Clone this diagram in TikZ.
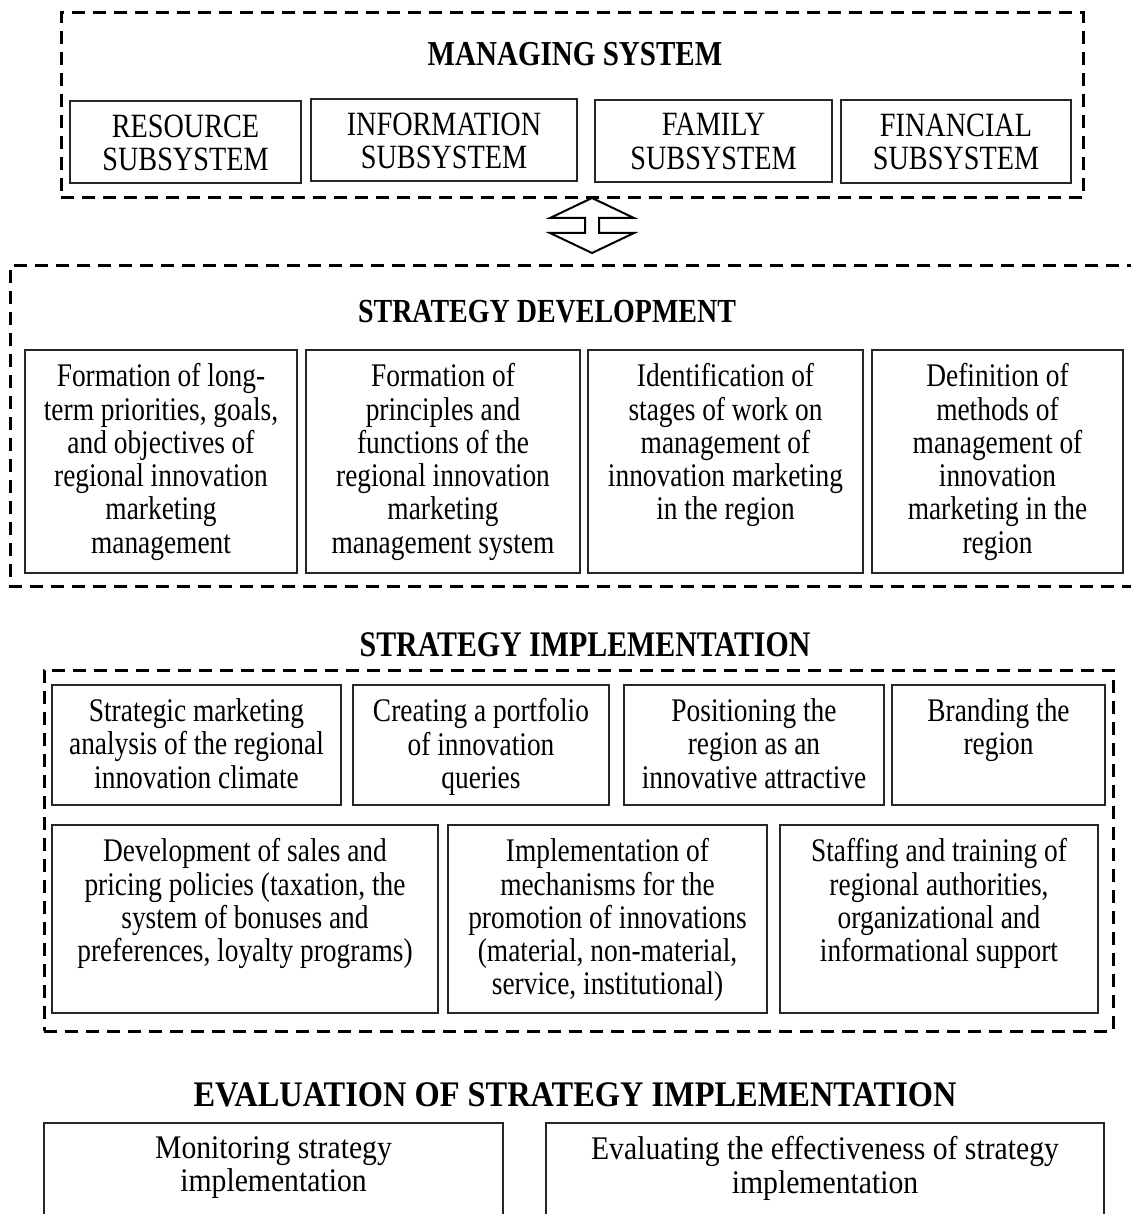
\documentclass[tikz,border=0pt]{standalone}
\usepackage{fontspec}
\setmainfont{Liberation Serif}[FakeStretch=0.83]
\newfontfamily\evalfont{Liberation Serif}[FakeStretch=0.9]
\begin{document}
\begin{tikzpicture}[x=1pt,y=-1pt,
  box/.style={draw=black!85,line width=1.3pt,inner sep=0pt},
  zone/.style={draw=black,line width=3pt,dash pattern=on 13pt off 8pt},
  txt/.style={anchor=north,inner sep=0pt,align=center,
    font=\fontsize{33}{33.3}\selectfont,
    execute at begin node=\rule{0pt}{23pt}},
  subtxt/.style={font=\fontsize{34}{33.3}\selectfont},
  evtxt/.style={font=\evalfont\fontsize{33}{33.5}\selectfont},
  head/.style={anchor=base,inner sep=0pt,font=\fontsize{35}{38}\selectfont\bfseries},
  dblarrow/.style={draw=black,line width=2pt,line join=miter,fill=white}]
\useasboundingbox (0,0) rectangle (1130,1214);

% a framed box with top-aligned centred text
\newcommand\bx[7][]{%
  \node[box,minimum width={#5-#3},minimum height={#6-#4}] (#2) at ({(#3+#5)/2},{(#4+#6)/2}) {};
  \node[txt,#1] (#2t) at ([yshift=-14pt]#2.north) {#7};}

% ---- managing system ----
\node[zone,inner sep=0pt,minimum width=1022,minimum height=185] (ms) at (572,105.5) {};
\node[head] (msh) at (575,66) {MANAGING SYSTEM};
\bx[subtxt]{s1}{70}{101}{301}{183}{RESOURCE\\SUBSYSTEM}
\bx[subtxt]{s2}{311}{99}{577}{181}{INFORMATION\\SUBSYSTEM}
\bx[subtxt]{s3}{595}{100}{832}{182}{FAMILY\\SUBSYSTEM}
\bx[subtxt]{s4}{841}{100}{1071}{183}{FINANCIAL\\SUBSYSTEM}

% ---- two-way arrow ----
\coordinate (ap) at (592,198);
\draw[dblarrow] (ap) -- ++(-42,20) -- ++(35,0) -- ++(0,15) -- ++(-35,0)
  -- ++(42,20) -- ++(42,-20) -- ++(-35,0) -- ++(0,-15) -- ++(35,0) -- cycle;

% ---- strategy development (open to the right) ----
\draw[zone] (1140,266) -- (10,266) -- (10,586) -- (1140,586);
\node[head,font=\fontsize{33.7}{38}\selectfont\bfseries] (sdh) at (547,322) {STRATEGY DEVELOPMENT};
\bx{d1}{25}{350}{297}{573}{Formation of long-\\term priorities, goals,\\and objectives of\\regional innovation\\marketing\\management}
\bx{d2}{306}{350}{580}{573}{Formation of\\principles and\\functions of the\\regional innovation\\marketing\\management system}
\bx{d3}{588}{350}{863}{573}{Identification of\\stages of work on\\management of\\innovation marketing\\in the region}
\bx{d4}{872}{350}{1123}{573}{Definition of\\methods of\\management of\\innovation\\marketing in the\\region}

% ---- strategy implementation ----
\node[head,font=\fontsize{36}{38}\selectfont\bfseries] (sih) at (585,656) {STRATEGY IMPLEMENTATION};
\node[zone,inner sep=0pt,minimum width=1069,minimum height=361] (si) at (578.5,850.5) {};
\bx{i1}{52}{685}{341}{805}{Strategic marketing\\analysis of the regional\\innovation climate}
\bx{i2}{353}{685}{609}{805}{Creating a portfolio\\of innovation\\queries}
\bx{i3}{624}{685}{884}{805}{Positioning the\\region as an\\innovative attractive}
\bx{i4}{892}{685}{1105}{805}{Branding the\\region}
\bx{i5}{52}{825}{438}{1013}{Development of sales and\\pricing policies (taxation, the\\system of bonuses and\\preferences, loyalty programs)}
\bx{i6}{448}{825}{767}{1013}{Implementation of\\mechanisms for the\\promotion of innovations\\(material, non-material,\\service, institutional)}
\bx{i7}{780}{825}{1098}{1013}{Staffing and training of\\regional authorities,\\organizational and\\informational support}

% ---- evaluation ----
\node[head,font=\evalfont\fontsize{36}{38}\selectfont\bfseries] (evh) at (575,1106) {EVALUATION OF STRATEGY IMPLEMENTATION};
\bx[evtxt]{e1}{44}{1123}{503}{1240}{Monitoring strategy\\implementation}
\bx[evtxt]{e2}{546}{1123}{1104}{1240}{Evaluating the effectiveness of strategy\\implementation}
\end{tikzpicture}
\end{document}
